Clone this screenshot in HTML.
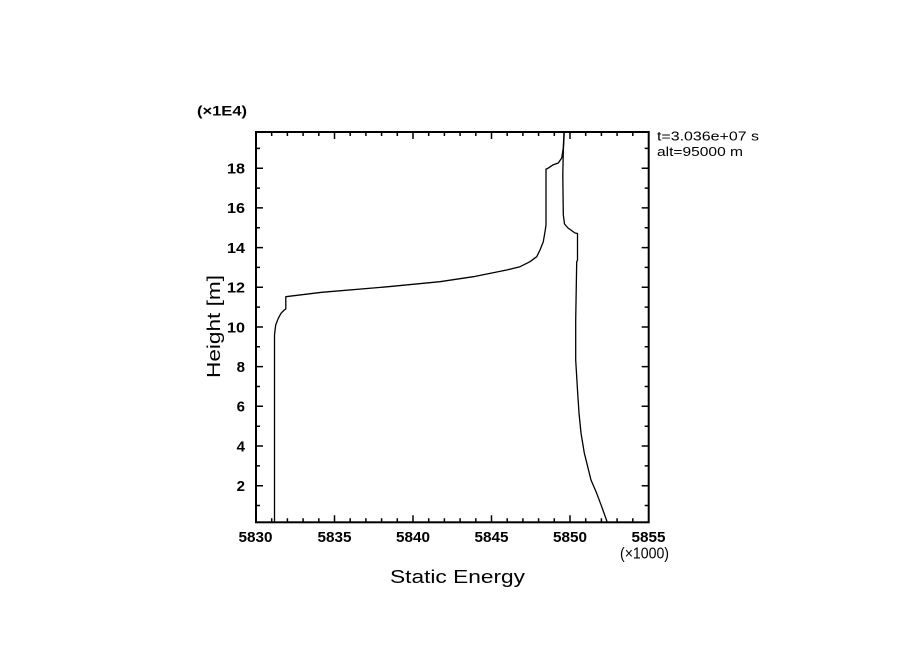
<!DOCTYPE html>
<html>
<head>
<meta charset="utf-8">
<style>
  html,body{margin:0;padding:0;background:#fff;}
  svg{display:block;}
  text{font-family:"Liberation Sans","DejaVu Sans",sans-serif;fill:#000;}
</style>
</head>
<body>
<svg width="904" height="654" viewBox="0 0 904 654" xmlns="http://www.w3.org/2000/svg">
  <rect x="0" y="0" width="904" height="654" fill="#fff"/>

  <!-- frame -->
  <rect x="256" y="132" width="392.7" height="390.3" fill="none" stroke="#000" stroke-width="2"/>

  <!-- ticks -->
  <g stroke="#000" stroke-width="1.5" fill="none">
    <path d="M256 485.7h7M256 446h7M256 406.3h7M256 366.6h7M256 327h7M256 287.3h7M256 247.6h7M256 207.9h7M256 168.2h7"/>
    <path d="M256 505.5h4M256 465.9h4M256 426.2h4M256 386.5h4M256 346.8h4M256 307.1h4M256 267.4h4M256 227.8h4M256 188.1h4M256 148.4h4"/>
    <path d="M648.7 485.7h-7M648.7 446h-7M648.7 406.3h-7M648.7 366.6h-7M648.7 327h-7M648.7 287.3h-7M648.7 247.6h-7M648.7 207.9h-7M648.7 168.2h-7"/>
    <path d="M648.7 505.5h-4M648.7 465.9h-4M648.7 426.2h-4M648.7 386.5h-4M648.7 346.8h-4M648.7 307.1h-4M648.7 267.4h-4M648.7 227.8h-4M648.7 188.1h-4M648.7 148.4h-4"/>
    <path d="M334.5 522.3v-7M413 522.3v-7M491.5 522.3v-7M570 522.3v-7"/>
    <path d="M271.7 522.3v-4M287.4 522.3v-4M303.1 522.3v-4M318.8 522.3v-4M350.2 522.3v-4M365.9 522.3v-4M381.6 522.3v-4M397.3 522.3v-4M428.7 522.3v-4M444.4 522.3v-4M460.1 522.3v-4M475.8 522.3v-4M507.2 522.3v-4M522.9 522.3v-4M538.6 522.3v-4M554.3 522.3v-4M585.7 522.3v-4M601.4 522.3v-4M617.1 522.3v-4M632.8 522.3v-4"/>
    <path d="M334.5 132v7M413 132v7M491.5 132v7M570 132v7"/>
    <path d="M271.7 132v4M287.4 132v4M303.1 132v4M318.8 132v4M350.2 132v4M365.9 132v4M381.6 132v4M397.3 132v4M428.7 132v4M444.4 132v4M460.1 132v4M475.8 132v4M507.2 132v4M522.9 132v4M538.6 132v4M554.3 132v4M585.7 132v4M601.4 132v4M617.1 132v4M632.8 132v4"/>
  </g>

  <!-- curves -->
  <g fill="none" stroke="#000" stroke-width="1.3" stroke-linejoin="round">
    <polyline points="274.5,522.3 274.5,335 275.7,325 278.3,318.3 281,313.3 284.3,310 285.8,309 285.8,296.7 321.7,292.3 388.3,286.7 440,281.7 473.3,276.7 506.7,270 520,266.7 530,261.7 536.7,256.7 540,250 543.3,241.7 545,231.7 546,225 546,169 547.3,168.7 553.3,164.7 558.3,163 561.7,158 563.3,148 564,132"/>
    <polyline points="564.3,132 563.3,151 562.8,175 563.3,214.7 564.5,224 568,228 575,233 577.5,233.5 577.5,260 576.7,262 575.7,320 575.7,360 577.7,393.3 579,413 581,433 584.3,453 587.7,466.7 591,480 596.7,493.3 601.7,506.7 607.3,522.3"/>
  </g>

  <!-- y tick labels -->
  <g font-size="15" font-weight="bold" text-anchor="end">
    <text x="245" y="491">2</text>
    <text x="245" y="451.3">4</text>
    <text x="245" y="411.6">6</text>
    <text x="245" y="371.9">8</text>
    <text x="245" y="332.3" textLength="18" lengthAdjust="spacingAndGlyphs">10</text>
    <text x="245" y="292.6" textLength="18" lengthAdjust="spacingAndGlyphs">12</text>
    <text x="245" y="252.9" textLength="18" lengthAdjust="spacingAndGlyphs">14</text>
    <text x="245" y="213.2" textLength="18" lengthAdjust="spacingAndGlyphs">16</text>
    <text x="245" y="173.5" textLength="18" lengthAdjust="spacingAndGlyphs">18</text>
  </g>

  <!-- x tick labels -->
  <g font-size="15" font-weight="bold" text-anchor="middle">
    <text x="255.5" y="542" textLength="34" lengthAdjust="spacingAndGlyphs">5830</text>
    <text x="334.5" y="542" textLength="34" lengthAdjust="spacingAndGlyphs">5835</text>
    <text x="413" y="542" textLength="34" lengthAdjust="spacingAndGlyphs">5840</text>
    <text x="491.5" y="542" textLength="34" lengthAdjust="spacingAndGlyphs">5845</text>
    <text x="570" y="542" textLength="34" lengthAdjust="spacingAndGlyphs">5850</text>
    <text x="648.5" y="542" textLength="34" lengthAdjust="spacingAndGlyphs">5855</text>
  </g>

  <text x="620" y="558.5" font-size="16" textLength="49" lengthAdjust="spacingAndGlyphs">(×1000)</text>
  <text x="197" y="115.5" font-size="14" font-weight="bold" textLength="50" lengthAdjust="spacingAndGlyphs">(×1E4)</text>

  <text x="390" y="583" font-size="18" textLength="135" lengthAdjust="spacingAndGlyphs">Static Energy</text>
  <text transform="translate(220,378) rotate(-90)" x="0" y="0" font-size="18" textLength="103" lengthAdjust="spacingAndGlyphs">Height [m]</text>

  <text x="657" y="140.5" font-size="12.5" textLength="102" lengthAdjust="spacingAndGlyphs">t=3.036e+07 s</text>
  <text x="657" y="156" font-size="12.5" textLength="86" lengthAdjust="spacingAndGlyphs">alt=95000 m</text>
</svg>
</body>
</html>
